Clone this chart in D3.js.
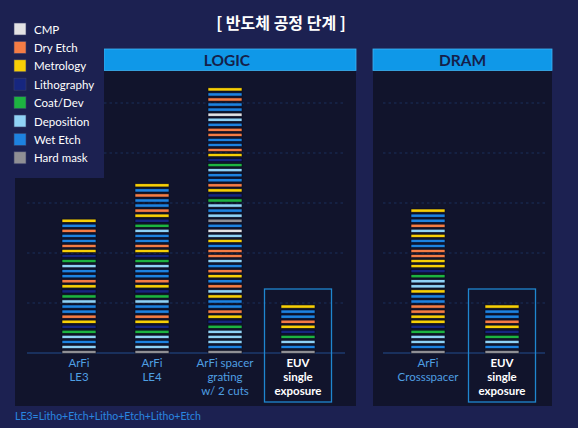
<!DOCTYPE html>
<html><head><meta charset="utf-8">
<script src="https://cdn.jsdelivr.net/npm/d3@7"></script>
<style>
html,body{margin:0;padding:0;background:#1c2151;}
svg{display:block;font-family:Lato,"Noto Sans",sans-serif;}
</style></head>
<body><svg id="c" width="578" height="428"></svg>
<script>
// ---- data ----
const processKeys = ["CMP","Dry Etch","Metrology","Lithography","Coat/Dev","Deposition","Wet Etch","Hard mask"];
const legendLabels = ["CMP","Dry Etch","Metrology","Lithography","Coat/Dev","Deposition","Wet Etch","Hard mask"];

const logicCategories = ["ArFi LE3","ArFi LE4","ArFi spacer grating","EUV single exposure (Logic)"];
const dramCategories = ["ArFi Crossspacer","EUV single exposure (DRAM)"];

// process steps, listed top -> bottom as seen in the picture
const stepsLE3 = ["Metrology","Wet Etch","Dry Etch","Wet Etch","Wet Etch","Dry Etch","Metrology",
  "Lithography","Coat/Dev","Deposition","Wet Etch","Wet Etch","Dry Etch","Metrology",
  "Lithography","Coat/Dev","Deposition","Wet Etch","Wet Etch","Dry Etch","Metrology",
  "Lithography","Coat/Dev","Deposition","Wet Etch","Deposition","Hard mask"];
const stepsLE4 = ["Metrology","Wet Etch","Dry Etch","Wet Etch","Wet Etch","Dry Etch","Metrology",
  "Lithography","Coat/Dev","Deposition","Wet Etch","Wet Etch","Dry Etch","Metrology",
  "Lithography","Coat/Dev","Deposition","Wet Etch","Wet Etch","Dry Etch","Metrology",
  "Lithography","Coat/Dev","Deposition","Wet Etch","Wet Etch","Dry Etch","Metrology",
  "Lithography","Coat/Dev","Deposition","Wet Etch","Deposition","Hard mask"];
const stepsSpacer = ["Metrology","Wet Etch","Dry Etch","Wet Etch","Wet Etch","CMP","Deposition","Wet Etch",
  "Dry Etch","Dry Etch","Wet Etch","Wet Etch","Dry Etch","Metrology","Lithography","Coat/Dev",
  "Deposition","Wet Etch","Wet Etch","Dry Etch","Metrology","Lithography","Coat/Dev","Deposition",
  "Wet Etch","Deposition","Hard mask","Wet Etch","CMP","Deposition","Metrology","Wet Etch",
  "Dry Etch","Dry Etch","Deposition","Wet Etch","Dry Etch","Metrology","Wet Etch","Dry Etch",
  "Deposition","Metrology","Wet Etch","Wet Etch","Dry Etch","Metrology","Lithography","Coat/Dev",
  "Deposition","Deposition","Deposition","Wet Etch","Hard mask"];
const stepsEUV = ["Metrology","Wet Etch","Wet Etch","Dry Etch","Metrology","Lithography","Coat/Dev",
  "Deposition","Wet Etch","Hard mask"];
const stepsCross = ["Metrology","Wet Etch","Wet Etch","Dry Etch","Deposition","Metrology","Wet Etch",
  "Wet Etch","Dry Etch","Dry Etch","Metrology","Metrology","Lithography","Coat/Dev","Deposition",
  "Deposition","Metrology","Wet Etch","Wet Etch","Dry Etch","Dry Etch","Metrology","Metrology",
  "Lithography","Coat/Dev","Deposition","Deposition","Wet Etch","Hard mask"];

const logicSteps = [stepsLE3, stepsLE4, stepsSpacer, stepsEUV];
const dramSteps = [stepsCross, stepsEUV];

const logicLabels = [["ArFi","LE3"],["ArFi","LE4"],["ArFi spacer","grating","w/ 2 cuts"],["EUV","single","exposure"]];
const dramLabels = [["ArFi","Crossspacer"],["EUV","single","exposure"]];
const euvFlags = [false,false,false,true];
const dramEuvFlags = [false,true];

const gridTicks = [0,10,20,30,40,50];
const titleText = "[ 반도체 공정 단계 ]";
const footnote = "LE3=Litho+Etch+Litho+Etch+Litho+Etch";

// ---- styles ----
const color = d3.scaleOrdinal().domain(processKeys)
  .range(["#e2e2e4","#f47c45","#f7cf06","#16267f","#1db341","#8fd2f6","#1d82e0","#8f8f94"]);

const svg = d3.select("#c");

// panels
const panels = [
  {x0:15, x1:356, hx0:104, name:"LOGIC", gx0:27, gx1:345},
  {x0:373, x1:552, hx0:373, name:"DRAM", gx0:383, gx1:545}
];
svg.selectAll("rect.panel").data(panels).join("rect")
  .attr("x",d=>d.x0).attr("y",49).attr("width",d=>d.x1-d.x0).attr("height",357)
  .attr("fill","#11142c");
svg.selectAll("rect.hdr").data(panels).join("rect")
  .attr("x",d=>d.hx0).attr("y",49).attr("width",d=>d.x1-d.hx0).attr("height",21.5)
  .attr("fill","#0f98e8").attr("stroke","#3fb2f2").attr("stroke-width",0.8);
svg.selectAll("text.hdr").data(panels).join("text")
  .attr("x",d=>(d.hx0+d.x1)/2 - (d.name==="LOGIC"?3:0)).attr("y",65.5)
  .attr("text-anchor","middle").attr("fill","#15204a")
  .attr("font-size",15.5).attr("font-weight",700).text(d=>d.name);

// grid scale
const gy = d3.scaleLinear().domain([0,50]).range([353,103]);
panels.forEach(p=>{
  svg.append("g").selectAll("line").data(gridTicks).join("line")
    .attr("x1",p.gx0).attr("x2",p.gx1)
    .attr("y1",d=>gy(d)).attr("y2",d=>gy(d))
    .attr("stroke",d=>d===0?"#1d3a6e":"#1b2f5a")
    .attr("stroke-width",d=>d===0?1.5:1.2)
    .attr("stroke-dasharray",d=>d===0?null:"2.5,3");
});

// step scale
const y = d3.scaleLinear().domain([0,52]).range([352,89.4]);
const xLogic = d3.scalePoint().domain(logicCategories).range([79,298]);
const xDram = d3.scalePoint().domain(dramCategories).range([428,502]);
const barW = 34;

function drawGroup(cats, stepsArr, labels, flags, xs){
  cats.forEach((c,ci)=>{
    const cx = xs(c);
    const steps = stepsArr[ci];
    const n = steps.length;
    if(flags[ci]){
      svg.append("rect").attr("x",cx-33.5).attr("y",289).attr("width",67).attr("height",113)
        .attr("fill","none").attr("stroke","#1f86cf").attr("stroke-width",1.3);
    }
    svg.append("g").selectAll("rect").data(steps).join("rect")
      .attr("x",cx-barW/2).attr("width",barW)
      .attr("y",(d,j)=>y(n-1-j)-1.6).attr("height",3.2)
      .attr("fill",d=>color(d)).attr("stroke","#07091a").attr("stroke-width",0.6);
    const lab = labels[ci];
    svg.append("g").selectAll("text").data(lab).join("text")
      .attr("x",cx).attr("y",(d,k)=>367+k*14)
      .attr("text-anchor","middle")
      .attr("font-size",11.5)
      .attr("font-weight",flags[ci]?700:400)
      .attr("fill",flags[ci]?"#ffffff":"#4f9fe2")
      .text(d=>d);
  });
}
drawGroup(logicCategories, logicSteps, logicLabels, euvFlags, xLogic);
drawGroup(dramCategories, dramSteps, dramLabels, dramEuvFlags, xDram);

// legend box
svg.append("rect").attr("x",0).attr("y",10).attr("width",104).attr("height",168).attr("fill","#1c2151");
const lg = svg.append("g").selectAll("g").data(processKeys).join("g")
  .attr("transform",(d,i)=>`translate(14,${23+i*18.4})`);
lg.append("rect").attr("width",12).attr("height",12).attr("fill",d=>color(d))
  .attr("stroke","#3a3f6a").attr("stroke-width",0.6);
lg.append("text").attr("x",20).attr("y",10.5).attr("fill","#ffffff").attr("font-size",11.5)
  .text((d,i)=>legendLabels[i]);

// title
svg.append("text").attr("x",281).attr("y",29).attr("text-anchor","middle")
  .attr("fill","#ffffff").attr("font-size",16).attr("font-weight",700)
  .attr("font-family","'Noto Sans CJK KR','Noto Sans',sans-serif")
  .text(titleText);

// footnote
svg.append("text").attr("x",15).attr("y",420).attr("fill","#2a86e0").attr("font-size",10.5)
  .text(footnote);
</script></body></html>
